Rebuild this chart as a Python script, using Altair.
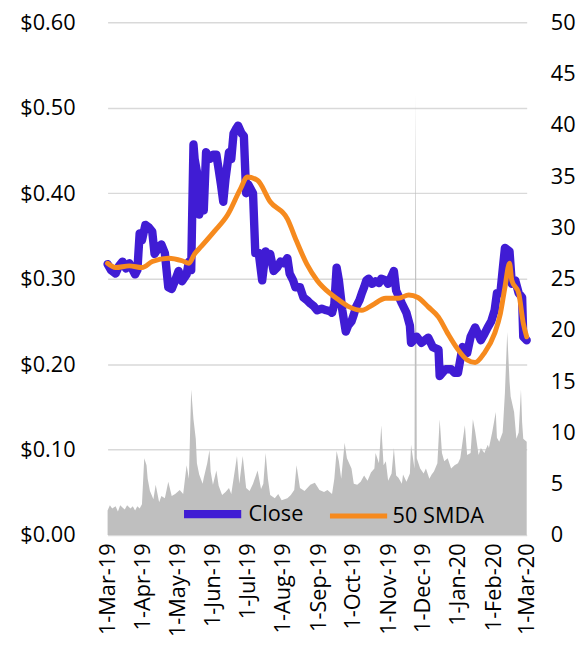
import altair as alt
import pandas as pd

FONT = "Open Sans"

# ---- Close price ----
close_dates = [
    "2019-03-01", "2019-03-04", "2019-03-08", "2019-03-11", "2019-03-14", "2019-03-17",
    "2019-03-20", "2019-03-23", "2019-03-25", "2019-03-27", "2019-03-29", "2019-03-31",
    "2019-04-03", "2019-04-06", "2019-04-09", "2019-04-11", "2019-04-14", "2019-04-17",
    "2019-04-20", "2019-04-23", "2019-04-26", "2019-04-29",
    "2019-05-02", "2019-05-05", "2019-05-09", "2019-05-11", "2019-05-13", "2019-05-15",
    "2019-05-16", "2019-05-18", "2019-05-20", "2019-05-22", "2019-05-24", "2019-05-26", "2019-05-29",
    "2019-06-01", "2019-06-04", "2019-06-06", "2019-06-08", "2019-06-10", "2019-06-12", "2019-06-15",
    "2019-06-17", "2019-06-19", "2019-06-21", "2019-06-23", "2019-06-26", "2019-06-28", "2019-06-30",
    "2019-07-02", "2019-07-04", "2019-07-06", "2019-07-08", "2019-07-11", "2019-07-14",
    "2019-07-17", "2019-07-19", "2019-07-21", "2019-07-24", "2019-07-27", "2019-07-30",
    "2019-08-02", "2019-08-05", "2019-08-07", "2019-08-10", "2019-08-12", "2019-08-16",
    "2019-08-19", "2019-08-22", "2019-08-25", "2019-08-28", "2019-08-31",
    "2019-09-04", "2019-09-08", "2019-09-11", "2019-09-13", "2019-09-15", "2019-09-17",
    "2019-09-19", "2019-09-22", "2019-09-25", "2019-09-27", "2019-09-30",
    "2019-10-02", "2019-10-04", "2019-10-07", "2019-10-09", "2019-10-11", "2019-10-13",
    "2019-10-15", "2019-10-18", "2019-10-21", "2019-10-24", "2019-10-26", "2019-10-30",
    "2019-11-01", "2019-11-06", "2019-11-08", "2019-11-13", "2019-11-17", "2019-11-20",
    "2019-11-21", "2019-11-26", "2019-11-30",
    "2019-12-06", "2019-12-10", "2019-12-15", "2019-12-16", "2019-12-21", "2019-12-26", "2019-12-29",
    "2020-01-01", "2020-01-05", "2020-01-09", "2020-01-12", "2020-01-16", "2020-01-21",
    "2020-01-24", "2020-01-27", "2020-01-30",
    "2020-02-02", "2020-02-04", "2020-02-07", "2020-02-09", "2020-02-11", "2020-02-13",
    "2020-02-15", "2020-02-17", "2020-02-20", "2020-02-23", "2020-02-26", "2020-02-27",
    "2020-03-01",
]
close_values = [
    0.317, 0.31, 0.306, 0.315, 0.32, 0.312, 0.318, 0.31, 0.305, 0.31, 0.353, 0.345,
    0.363, 0.36, 0.355, 0.329, 0.335, 0.34, 0.33, 0.29, 0.288, 0.298,
    0.309, 0.297, 0.305, 0.32, 0.31, 0.457, 0.44, 0.425, 0.375, 0.385, 0.38, 0.448, 0.44,
    0.445, 0.445, 0.428, 0.41, 0.39, 0.417, 0.448, 0.44, 0.47, 0.475, 0.479, 0.47, 0.467, 0.40,
    0.41, 0.405, 0.40, 0.33, 0.33, 0.298, 0.332, 0.325, 0.329, 0.309, 0.313, 0.32,
    0.318, 0.324, 0.306, 0.298, 0.29, 0.29, 0.278, 0.275, 0.271, 0.268, 0.263,
    0.265, 0.263, 0.262, 0.26, 0.27, 0.313, 0.298, 0.263, 0.238, 0.245, 0.25,
    0.258, 0.267, 0.275, 0.283, 0.29, 0.298, 0.30, 0.294, 0.297, 0.295, 0.30, 0.298,
    0.294, 0.309, 0.286, 0.271, 0.26, 0.245, 0.225, 0.232, 0.225,
    0.231, 0.22, 0.217, 0.186, 0.194, 0.194, 0.19,
    0.19, 0.22, 0.213, 0.232, 0.243, 0.228, 0.235, 0.243, 0.25,
    0.263, 0.283, 0.283, 0.31, 0.336, 0.334, 0.332, 0.294, 0.298, 0.283, 0.278, 0.232,
    0.228,
]

# ---- 50-day simple moving average ----
sma_dates = [
    "2019-03-01", "2019-03-08", "2019-03-20", "2019-03-31", "2019-04-09", "2019-04-23",
    "2019-05-05", "2019-05-11", "2019-05-16", "2019-05-22", "2019-06-02", "2019-06-14",
    "2019-06-25", "2019-07-01", "2019-07-10", "2019-07-21", "2019-08-05", "2019-08-13",
    "2019-08-22", "2019-08-31", "2019-09-11", "2019-09-19", "2019-09-28", "2019-10-09",
    "2019-10-18", "2019-10-30", "2019-11-10", "2019-11-19", "2019-11-27", "2019-12-06",
    "2019-12-15", "2019-12-23", "2020-01-01", "2020-01-09", "2020-01-16", "2020-01-24",
    "2020-02-02", "2020-02-07", "2020-02-11", "2020-02-15", "2020-02-17", "2020-02-23",
    "2020-02-27", "2020-03-01",
]
sma_values = [
    0.318, 0.313, 0.315, 0.313, 0.32, 0.324,
    0.321, 0.318, 0.329, 0.338, 0.355, 0.375,
    0.405, 0.419, 0.415, 0.39, 0.37, 0.344,
    0.317, 0.298, 0.283, 0.275, 0.267, 0.263,
    0.269, 0.277, 0.277, 0.281, 0.278, 0.267,
    0.255, 0.236, 0.217, 0.205, 0.202, 0.213,
    0.236, 0.259, 0.29, 0.318, 0.298, 0.283,
    0.248, 0.232,
]

# ---- Volume (right axis) ----
vol_dates = [
    "2019-03-01", "2019-03-03", "2019-03-05", "2019-03-08", "2019-03-10", "2019-03-12",
    "2019-03-14", "2019-03-16", "2019-03-18", "2019-03-21", "2019-03-23", "2019-03-25",
    "2019-03-27", "2019-03-29", "2019-03-31",
    "2019-04-02", "2019-04-04", "2019-04-05", "2019-04-07", "2019-04-10", "2019-04-12",
    "2019-04-15", "2019-04-17", "2019-04-20", "2019-04-23", "2019-04-26", "2019-04-29",
    "2019-05-03", "2019-05-06", "2019-05-09", "2019-05-11", "2019-05-13", "2019-05-15",
    "2019-05-17", "2019-05-18", "2019-05-20", "2019-05-23", "2019-05-24", "2019-05-27",
    "2019-05-29", "2019-05-30",
    "2019-06-01", "2019-06-04", "2019-06-06", "2019-06-09", "2019-06-12", "2019-06-15",
    "2019-06-17", "2019-06-22", "2019-06-24", "2019-06-27", "2019-06-30",
    "2019-07-03", "2019-07-06", "2019-07-10", "2019-07-13", "2019-07-15", "2019-07-17",
    "2019-07-19", "2019-07-21", "2019-07-25", "2019-07-28", "2019-07-31",
    "2019-08-05", "2019-08-08", "2019-08-11", "2019-08-13", "2019-08-16", "2019-08-20",
    "2019-08-25", "2019-08-29",
    "2019-09-02", "2019-09-06", "2019-09-09", "2019-09-13", "2019-09-15", "2019-09-17",
    "2019-09-19", "2019-09-21", "2019-09-24", "2019-09-26", "2019-09-30",
    "2019-10-02", "2019-10-05", "2019-10-08", "2019-10-11", "2019-10-14", "2019-10-17",
    "2019-10-20", "2019-10-21", "2019-10-24", "2019-10-26", "2019-10-28", "2019-10-30",
    "2019-11-01", "2019-11-04", "2019-11-06", "2019-11-08", "2019-11-10", "2019-11-13",
    "2019-11-14", "2019-11-17", "2019-11-20", "2019-11-21", "2019-11-24", "2019-11-25",
    "2019-11-26", "2019-11-29",
    "2019-12-02", "2019-12-04", "2019-12-07", "2019-12-09", "2019-12-11", "2019-12-14",
    "2019-12-16", "2019-12-18", "2019-12-20", "2019-12-23", "2019-12-26", "2019-12-29",
    "2020-01-01", "2020-01-03", "2020-01-07", "2020-01-09", "2020-01-12", "2020-01-14",
    "2020-01-16", "2020-01-19", "2020-01-21", "2020-01-24", "2020-01-27", "2020-01-28",
    "2020-01-31",
    "2020-02-03", "2020-02-04", "2020-02-06", "2020-02-09", "2020-02-11", "2020-02-13",
    "2020-02-15", "2020-02-16", "2020-02-19", "2020-02-21", "2020-02-23", "2020-02-25",
    "2020-02-26", "2020-02-27", "2020-03-01",
]
vol_values = [
    2.4, 2.9, 2.6, 2.8, 2.3, 2.9,
    2.7, 2.5, 2.9, 2.6, 2.8, 2.4,
    2.8, 2.6, 3.0,
    7.5, 6.8, 5.5, 4.3, 3.5, 4.9,
    3.2, 3.8, 3.6, 5.2, 3.8, 4.0,
    4.4, 4.0, 6.8, 5.5, 14.2, 11.3,
    9.4, 7.0, 5.9, 5.0, 5.6, 7.0,
    8.3, 6.2,
    4.9, 6.3, 4.8, 3.9, 4.2, 4.6,
    4.0, 7.7, 5.0, 7.7, 4.6,
    4.3, 5.0, 6.3, 4.5, 5.0, 8.0,
    5.5, 3.9, 3.6, 4.0, 3.4,
    3.6, 3.9, 4.4, 6.8, 4.6, 4.3,
    4.9, 5.1,
    4.4, 4.2, 4.4, 4.0, 5.5, 8.2,
    7.2, 5.5, 9.0, 7.5, 6.5,
    5.0, 4.9, 5.2, 5.8, 5.3, 6.1,
    6.5, 8.0, 7.0, 10.7, 6.8, 7.2,
    5.3, 6.0, 8.5, 5.8, 5.6, 5.0,
    5.9, 5.2, 6.0, 8.8, 6.5, 43.0,
    7.5, 6.5,
    6.0, 6.5, 5.5, 5.9, 6.2, 7.0,
    11.3, 8.0, 7.2, 7.5, 6.5, 6.8,
    7.0, 7.5, 10.7, 7.8, 8.0, 11.3,
    10.1, 7.8, 8.5, 8.0, 8.8, 8.5,
    10.1,
    12.0, 9.5, 9.1, 10.0, 13.9, 19.8,
    15.0, 13.5, 12.0, 9.4, 10.0, 14.2,
    11.0, 9.4, 9.1,
]

tick_dates = [
    (2019, 3), (2019, 4), (2019, 5), (2019, 6), (2019, 7), (2019, 8), (2019, 9),
    (2019, 10), (2019, 11), (2019, 12), (2020, 1), (2020, 2), (2020, 3),
]
price_ticks = [0.0, 0.1, 0.2, 0.3, 0.4, 0.5, 0.6]
volume_ticks = [0, 5, 10, 15, 20, 25, 30, 35, 40, 45, 50]
series_names = ["Close", "50 SMDA"]
series_colors = ["#401CD4", "#F68A1E"]
series_widths = [8.5, 5]

assert len(close_dates) == len(close_values)
assert len(sma_dates) == len(sma_values)
assert len(vol_dates) == len(vol_values)

price_df = pd.DataFrame({
    "date": close_dates + sma_dates,
    "price": close_values + sma_values,
    "series": ["Close"] * len(close_dates) + ["50 SMDA"] * len(sma_dates),
})
vol_df = pd.DataFrame({"date": vol_dates, "volume": vol_values})

x_enc = alt.X(
    "date:T",
    title=None,
    scale=alt.Scale(
        type="utc",
        domain=[alt.DateTime(year=2019, month=3, date=1, utc=True),
                alt.DateTime(year=2020, month=3, date=1, utc=True)],
    ),
    axis=alt.Axis(
        values=[alt.DateTime(year=y, month=m, date=1, utc=True) for y, m in tick_dates],
        format="%-d-%b-%y",
        labelAngle=270,
        labelFontSize=22,
        labelFont=FONT,
        labelColor="black",
        labelPadding=8,
        ticks=False,
        grid=False,
        domain=False,
        labelOverlap=False,
    ),
)

vol = alt.Chart(vol_df).mark_area(color="#BFBFBF", interpolate="linear").encode(
    x=x_enc,
    y=alt.Y(
        "volume:Q",
        title=None,
        scale=alt.Scale(domain=[0, 50], nice=False),
        axis=alt.Axis(
            orient="right", values=volume_ticks, grid=False, domain=False, ticks=False,
            labelPadding=24, labelFontSize=22, labelFont=FONT, labelColor="black",
        ),
    ),
)

legend = alt.Legend(
    title=None, orient="none", legendX=73, legendY=465, direction="horizontal",
    symbolType="stroke", symbolSize=3364, labelFontSize=22, labelFont=FONT,
    labelColor="black", columnPadding=16, labelOffset=3,
)

y_price = alt.Y(
    "price:Q",
    title=None,
    scale=alt.Scale(domain=[0, 0.6], nice=False),
    axis=alt.Axis(
        orient="left", values=price_ticks, format="$.2f", grid=True,
        gridColor="#D9D9D9", gridWidth=1.5, domain=False, ticks=False,
        labelPadding=33, labelFontSize=22, labelFont=FONT, labelColor="black",
    ),
)
color_enc = alt.Color("series:N", scale=alt.Scale(domain=series_names, range=series_colors), legend=legend)
width_enc = alt.StrokeWidth("series:N", scale=alt.Scale(domain=series_names, range=series_widths), legend=legend)

close_line = alt.Chart(price_df).transform_filter(alt.datum.series == "Close").mark_line(
    strokeCap="round", strokeJoin="round"
).encode(x=x_enc, y=y_price, color=color_enc, strokeWidth=width_enc)

sma_line = alt.Chart(price_df).transform_filter(alt.datum.series == "50 SMDA").mark_line(
    strokeCap="round", strokeJoin="round", interpolate="monotone"
).encode(x=x_enc, y=y_price, color=color_enc, strokeWidth=width_enc)

price_layer = alt.layer(close_line, sma_line)

chart = alt.layer(vol, price_layer).resolve_scale(y="independent").properties(
    width=425, height=520,
    autosize=alt.AutoSizeParams(type="none"),
    padding={"left": 101, "top": 10, "right": 50, "bottom": 108},
).configure(font=FONT).configure_view(
    stroke="transparent", strokeWidth=0
).configure_axisY(
    domain=False, ticks=False
).configure_axisX(grid=False, domain=False)

chart.save("out.html", embed_options={"renderer": "svg", "actions": False})
